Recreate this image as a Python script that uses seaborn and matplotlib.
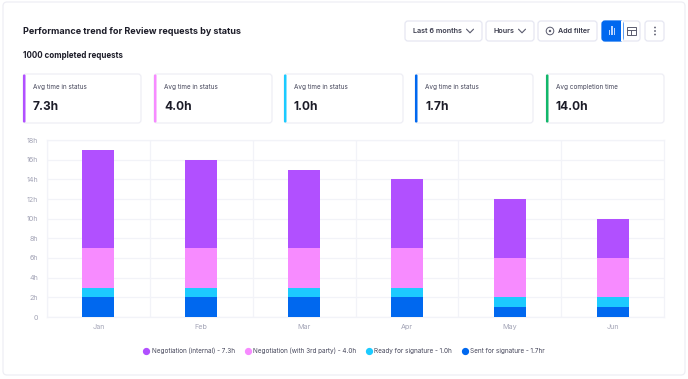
import matplotlib
matplotlib.use("Agg")
import matplotlib.pyplot as plt
from matplotlib.lines import Line2D
from matplotlib.patches import Circle, FancyBboxPatch, Rectangle
import numpy as np
import pandas as pd
import seaborn as sns

W, H = 688, 379

months = ["Jan", "Feb", "Mar", "Apr", "May", "Jun"]
sent = [2, 2, 2, 2, 1, 1]
ready = [1, 1, 1, 1, 1, 1]
third_party = [4, 4, 4, 4, 4, 4]
internal = [10, 9, 8, 7, 6, 4]

series_names = [
    "Negotiation (internal) - 7.3h",
    "Negotiation (with 3rd party) - 4.0h",
    "Ready for signature - 1.0h",
    "Sent for signature - 1.7hr",
]
series_colors = ["#b150ff", "#f78bff", "#1ccbff", "#0068ef"]

card_labels = ["Avg time in status"] * 4 + ["Avg completion time"]
card_values = ["7.3h", "4.0h", "1.0h", "1.7h", "14.0h"]
card_colors = series_colors + ["#12b76a"]

y_ticks = list(range(0, 20, 2))
y_labels = ["0"] + [f"{v}h" for v in y_ticks[1:]]

DARK = "#1c1c28"
BORDER = "#e6e7f2"
GRID = "#f2f3f8"
MUTED = "#a3a4b6"

sns.set_theme(style="white")
plt.rcParams["font.family"] = ["Inter", "DejaVu Sans"]

fig = plt.figure(figsize=(W / 100, H / 100), dpi=100, facecolor="white")

# calque en pixels pour la carte, les boutons et les encadrés
ui = fig.add_axes([0, 0, 1, 1])
ui.set_xlim(0, W)
ui.set_ylim(H, 0)
ui.axis("off")


def box(x0, y0, x1, y1, fc="white", ec=BORDER, r=3, lw=0.9, z=1):
    ui.add_patch(FancyBboxPatch((x0 + r, y0 + r), x1 - x0 - 2 * r, y1 - y0 - 2 * r,
                                boxstyle=f"round,pad={r},rounding_size={r}",
                                fc=fc, ec=ec, lw=lw, zorder=z))


def chevron(x, y):
    ui.plot([x - 3.5, x, x + 3.5], [y - 1.8, y + 1.8, y - 1.8], color="#5a5b6e", lw=0.8, zorder=3)


box(3, 2, 685, 375, ec="#eeeef4", r=4)

ui.text(23, 31, "Performance trend for Review requests by status", fontsize=6.5,
        fontweight="bold", color=DARK, va="center")
ui.text(23, 56, "1000 completed requests", fontsize=5.75, fontweight="bold", color=DARK, va="center")

# boutons
for x0, x1 in [(405, 482), (486, 534), (538, 597), (621, 640), (645, 664)]:
    box(x0, 21, x1, 41, z=2)
ui.text(413, 31, "Last 6 months", fontsize=5.2, fontweight="semibold", color="#3a3b4c", va="center")
ui.text(494, 31, "Hours", fontsize=5.2, fontweight="semibold", color="#3a3b4c", va="center")
ui.text(558, 31, "Add filter", fontsize=5.2, fontweight="semibold", color="#3a3b4c", va="center")
chevron(470, 31)
chevron(522, 31)
ui.add_patch(Circle((550, 31), 3.8, fc="white", ec="#5a5b6e", lw=0.7, zorder=3))
ui.add_patch(Circle((550, 31), 1.2, fc="#5a5b6e", ec="none", zorder=3))

box(602, 21, 623, 41, fc="#0068ef", ec="#0068ef", z=3)
ui.add_patch(Rectangle((621, 21), 2, 20, fc="white", ec="none", zorder=4))
for bx, bh in [(608.5, 5), (611, 9), (613.5, 7)]:
    ui.add_patch(Rectangle((bx, 35 - bh), 1.6, bh, fc="#b9d4ff", ec="none", zorder=5))
ui.add_patch(Rectangle((627, 27), 9, 8, fc="white", ec="#5a5b6e", lw=0.7, zorder=3))
ui.plot([627, 636], [29.5, 29.5], color="#5a5b6e", lw=0.7, zorder=4)
ui.plot([631, 631], [29.5, 35], color="#5a5b6e", lw=0.7, zorder=4)
for dy in [27.5, 31, 34.5]:
    ui.add_patch(Circle((655, dy), 0.9, fc="#5a5b6e", ec="none", zorder=3))

# encadrés
card_lefts = [23, 154, 284, 415, 546]
card_rights = [141, 272, 403, 533, 664]
for left, right, label, value, color in zip(card_lefts, card_rights, card_labels, card_values, card_colors):
    box(left, 74, right, 123, ec="#eeeef5", z=1)
    ui.add_patch(FancyBboxPatch((left + 0.5, 75), 1.5, 47, boxstyle="round,pad=0.5,rounding_size=1",
                                fc=color, ec="none", zorder=2))
    ui.text(left + 10, 87.5, label, fontsize=4.6, color="#45465a", va="center")
    ui.text(left + 10, 107.5, value, fontsize=8.6, fontweight="bold", color=DARK, va="center")

# graphique empilé
ax = fig.add_axes([47 / W, 1 - 317 / H, (664 - 47) / W, (317 - 140) / H], facecolor="none")

df = pd.DataFrame({"mes": months, "sent": sent, "ready": ready, "third": third_party, "internal": internal})
bottom = np.zeros(len(df))
for col, name, color in zip(["sent", "ready", "third", "internal"], series_names[::-1], series_colors[::-1]):
    sns.barplot(data=df, x="mes", y=col, bottom=bottom, color=color, width=0.31,
                saturation=1, linewidth=0, ax=ax, zorder=3, label=name)
    bottom = bottom + df[col].to_numpy()

ax.set_xlim(-0.5, 5.5)
ax.set_ylim(0, 18)
ax.set_yticks(y_ticks, y_labels)
ax.set_xticks(np.arange(6) - 0.5, minor=True)
ax.set_xlabel("")
ax.set_ylabel("")
ax.grid(axis="y", color=GRID, lw=0.9, zorder=0)
ax.grid(axis="x", which="minor", color=GRID, lw=0.9, zorder=0)
ax.set_axisbelow(True)
ax.tick_params(axis="both", which="both", length=0)
ax.tick_params(axis="y", labelsize=5.2, labelcolor=MUTED, pad=6.5)
ax.tick_params(axis="x", labelsize=5.2, labelcolor=MUTED, pad=5)
for spine in ax.spines.values():
    spine.set_color(GRID)
    spine.set_linewidth(0.9)

handles = [Line2D([], [], linestyle="none", marker="o", markersize=4.2, color=c) for c in series_colors]
ax.legend(handles, series_names, ncol=4, loc="center", bbox_to_anchor=((344 - 47) / 617, (317 - 350.5) / 177),
          frameon=False, fontsize=4.6, labelcolor="#45465a", handletextpad=0.35,
          columnspacing=1.5, handlelength=1.0, borderpad=0)

fig.savefig("out.png", dpi=100)
